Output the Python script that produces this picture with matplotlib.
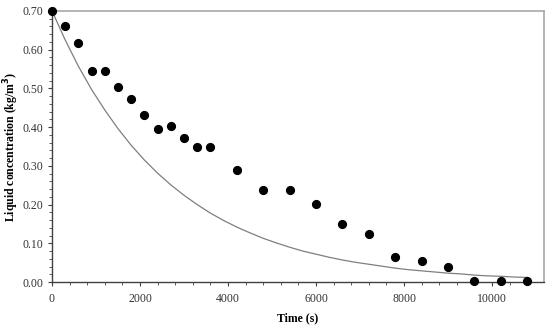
import matplotlib
matplotlib.use("Agg")
import matplotlib.pyplot as plt
from matplotlib.ticker import MultipleLocator, FormatStrFormatter

# Measured data
time_obs = [0, 300, 600, 900, 1200, 1500, 1800, 2100, 2400, 2700, 3000, 3300, 3600,
            4200, 4800, 5400, 6000, 6600, 7200, 7800, 8400, 9000, 9600, 10200, 10800]
conc_obs = [0.700, 0.661, 0.617, 0.544, 0.544, 0.504, 0.473, 0.431, 0.394, 0.403, 0.371, 0.349, 0.349,
            0.288, 0.238, 0.238, 0.201, 0.150, 0.124, 0.065, 0.055, 0.040, 0.004, 0.004, 0.004]

# Model curve
time_model = [0, 300, 600, 900, 1200, 1500, 1800, 2100, 2400, 2700, 3000, 3300, 3600,
              3900, 4200, 4500, 4800, 5100, 5400, 5700, 6000, 6300, 6600, 6900, 7200,
              7500, 7800, 8100, 8400, 8700, 9000, 9300, 9600, 9900, 10200, 10500, 10800]
conc_model = [0.700, 0.625, 0.557, 0.497, 0.444, 0.396, 0.353, 0.315, 0.281, 0.251, 0.224, 0.200, 0.178,
              0.159, 0.142, 0.127, 0.113, 0.101, 0.090, 0.080, 0.072, 0.064, 0.057, 0.051, 0.046,
              0.041, 0.036, 0.032, 0.029, 0.026, 0.023, 0.021, 0.018, 0.016, 0.015, 0.013, 0.012]

plt.rcParams['font.family'] = ['Liberation Serif', 'DejaVu Serif']

fig = plt.figure(figsize=(5.5, 3.28), dpi=100)
ax = fig.add_axes([0.0945, 0.140, 0.8945, 0.827])

ax.plot(time_model, conc_model, color='#7f7f7f', lw=0.9, zorder=2)
ax.plot(time_obs, conc_obs, 'o', color='black', ms=5.6, zorder=3, clip_on=False)

ax.set_xlim(0, 11180)
ax.set_ylim(0, 0.70)
ax.xaxis.set_major_locator(MultipleLocator(2000))
ax.xaxis.set_minor_locator(MultipleLocator(400))
ax.yaxis.set_major_locator(MultipleLocator(0.10))
ax.yaxis.set_minor_locator(MultipleLocator(0.02))
ax.yaxis.set_major_formatter(FormatStrFormatter('%.2f'))

for side in ['top', 'right']:
    ax.spines[side].set_color('#a8a8a8')
    ax.spines[side].set_linewidth(1.2)
for side in ['left', 'bottom']:
    ax.spines[side].set_color('#404040')
    ax.spines[side].set_linewidth(1.0)

ax.tick_params(axis='both', which='major', direction='out', length=3, width=0.8,
               color='#404040', labelsize=8.5, labelcolor='#333333', pad=3)
ax.tick_params(axis='both', which='minor', direction='out', length=2, width=0.6, color='#404040')
ax.tick_params(axis='x', which='major', pad=5)

ax.set_xlabel('Time (s)', fontsize=8.5, fontweight='bold')
ax.xaxis.set_label_coords(0.5, -0.112)
ax.set_ylabel('Liquid concentration (kg/m$^{\\mathbf{3}}$)', fontsize=8.5, fontweight='bold')
ax.yaxis.set_label_coords(-0.062, 0.5)

fig.savefig('out.png', dpi=100)
